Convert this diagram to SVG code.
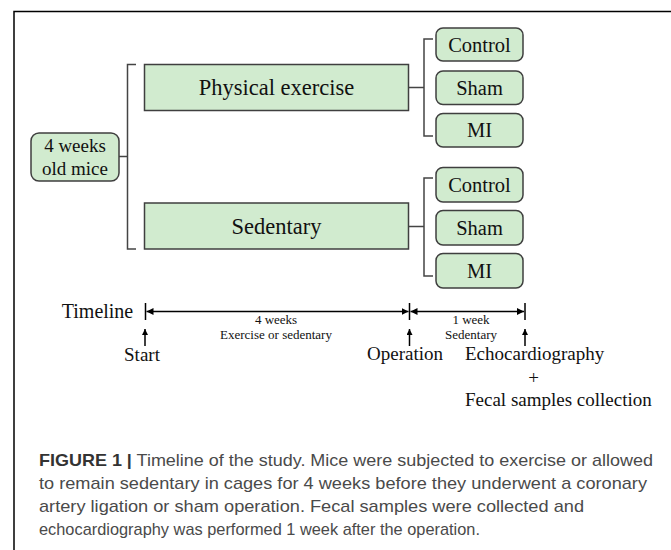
<svg xmlns="http://www.w3.org/2000/svg" width="671" height="550" viewBox="0 0 671 550">
  <defs>
    <style>
      .box { fill: #d1ebcf; stroke: #3f3f3f; stroke-width: 1.5; }
      .t { font-family: "Liberation Serif", "Times New Roman", serif; fill: #111; text-anchor: middle; }
      .br { fill: none; stroke: #444; stroke-width: 1.5; }
      .ln { fill: none; stroke: #000; stroke-width: 1.5; }
      .cap { font-family: "Liberation Sans", Arial, sans-serif; font-size: 17px; fill: #4a4a4a; }
    </style>
    <marker id="ah" viewBox="0 0 10 10" refX="10" refY="5" markerWidth="7" markerHeight="7" markerUnits="userSpaceOnUse" orient="auto-start-reverse">
      <path d="M0,0 L10,5 L0,10 z" fill="#000"/>
    </marker>
    <marker id="up" viewBox="0 0 10 10" refX="10" refY="5" markerWidth="7" markerHeight="6" markerUnits="userSpaceOnUse" orient="auto">
      <path d="M0,0 L10,5 L0,10 z" fill="#000"/>
    </marker>
  </defs>
  <rect width="671" height="550" fill="#fff"/>
  <!-- frame -->
  <path d="M14,550 L14,11.5 L671,11.5" fill="none" stroke="#000" stroke-width="1.5"/>

  <g id="connectors">
    <path class="br" d="M136,64.5 L127.5,64.5 L127.5,249 L136,249 M119,156.5 L127.5,156.5"/>
    <path class="br" d="M433,39 L424,39 L424,136 L433,136 M409,87.5 L424,87.5"/>
    <path class="br" d="M433,178 L424,178 L424,276 L433,276 M409,226.5 L424,226.5"/>
  </g>

  <g id="n-mice">
    <rect class="box" x="31" y="133" width="88" height="48" rx="8"/>
    <text class="t" x="75" y="152" font-size="19">4 weeks</text>
    <text class="t" x="75" y="175" font-size="19">old mice</text>
  </g>
  <g id="n-exercise">
    <rect class="box" x="144.5" y="64.5" width="264" height="46"/>
    <text class="t" x="276.5" y="95" font-size="22.5">Physical exercise</text>
  </g>
  <g id="n-sedentary">
    <rect class="box" x="144.5" y="203" width="264" height="46"/>
    <text class="t" x="276.5" y="234" font-size="22.5">Sedentary</text>
  </g>
  <g id="n-control1">
    <rect class="box" x="436" y="28" width="87" height="33" rx="7"/>
    <text class="t" x="479.5" y="51.5" font-size="20.5">Control</text>
  </g>
  <g id="n-sham1">
    <rect class="box" x="436" y="71" width="87" height="33.5" rx="7"/>
    <text class="t" x="479.5" y="94.5" font-size="20.5">Sham</text>
  </g>
  <g id="n-mi1">
    <rect class="box" x="436" y="113.5" width="87" height="33.5" rx="7"/>
    <text class="t" x="479.5" y="137" font-size="20.5">MI</text>
  </g>
  <g id="n-control2">
    <rect class="box" x="436" y="167.5" width="87" height="34.5" rx="7"/>
    <text class="t" x="479.5" y="191.5" font-size="20.5">Control</text>
  </g>
  <g id="n-sham2">
    <rect class="box" x="436" y="210.5" width="87" height="34.5" rx="7"/>
    <text class="t" x="479.5" y="234.5" font-size="20.5">Sham</text>
  </g>
  <g id="n-mi2">
    <rect class="box" x="436" y="253.5" width="87" height="34.5" rx="7"/>
    <text class="t" x="479.5" y="277.5" font-size="20.5">MI</text>
  </g>

  <g id="timeline">
    <text class="t" x="97.5" y="318" font-size="20">Timeline</text>
    <path class="ln" d="M145.5,303 L145.5,320 M409.5,303 L409.5,320 M525,303 L525,320"/>
    <path class="ln" d="M146.5,311.5 L408.5,311.5" marker-start="url(#ah)" marker-end="url(#ah)"/>
    <path class="ln" d="M410.5,311.5 L524,311.5" marker-start="url(#ah)" marker-end="url(#ah)"/>
    <text class="t" x="276" y="323.5" font-size="13">4 weeks</text>
    <text class="t" x="276" y="338.5" font-size="13">Exercise or sedentary</text>
    <text class="t" x="471" y="323.5" font-size="13">1 week</text>
    <text class="t" x="471" y="338.5" font-size="13">Sedentary</text>
    <path class="ln" d="M145,346 L145,329" marker-end="url(#up)"/>
    <path class="ln" d="M409.5,346 L409.5,329" marker-end="url(#up)"/>
    <path class="ln" d="M525,346 L525,329" marker-end="url(#up)"/>
    <text class="t" x="142" y="361" font-size="19">Start</text>
    <text class="t" x="405" y="360" font-size="19">Operation</text>
    <text class="t" x="465" y="360" font-size="19" style="text-anchor:start">Echocardiography</text>
    <text class="t" x="533.5" y="384" font-size="19">+</text>
    <text class="t" x="465" y="406" font-size="19" style="text-anchor:start">Fecal samples collection</text>
  </g>

  <g id="caption">
    <text class="cap" x="39" y="466" textLength="614" lengthAdjust="spacingAndGlyphs"><tspan font-weight="bold" fill="#333">FIGURE 1 |</tspan> Timeline of the study. Mice were subjected to exercise or allowed</text>
    <text class="cap" x="39" y="489" textLength="608" lengthAdjust="spacingAndGlyphs">to remain sedentary in cages for 4 weeks before they underwent a coronary</text>
    <text class="cap" x="39" y="512" textLength="545" lengthAdjust="spacingAndGlyphs">artery ligation or sham operation. Fecal samples were collected and</text>
    <text class="cap" x="39" y="535" textLength="441" lengthAdjust="spacingAndGlyphs">echocardiography was performed 1 week after the operation.</text>
  </g>
</svg>
